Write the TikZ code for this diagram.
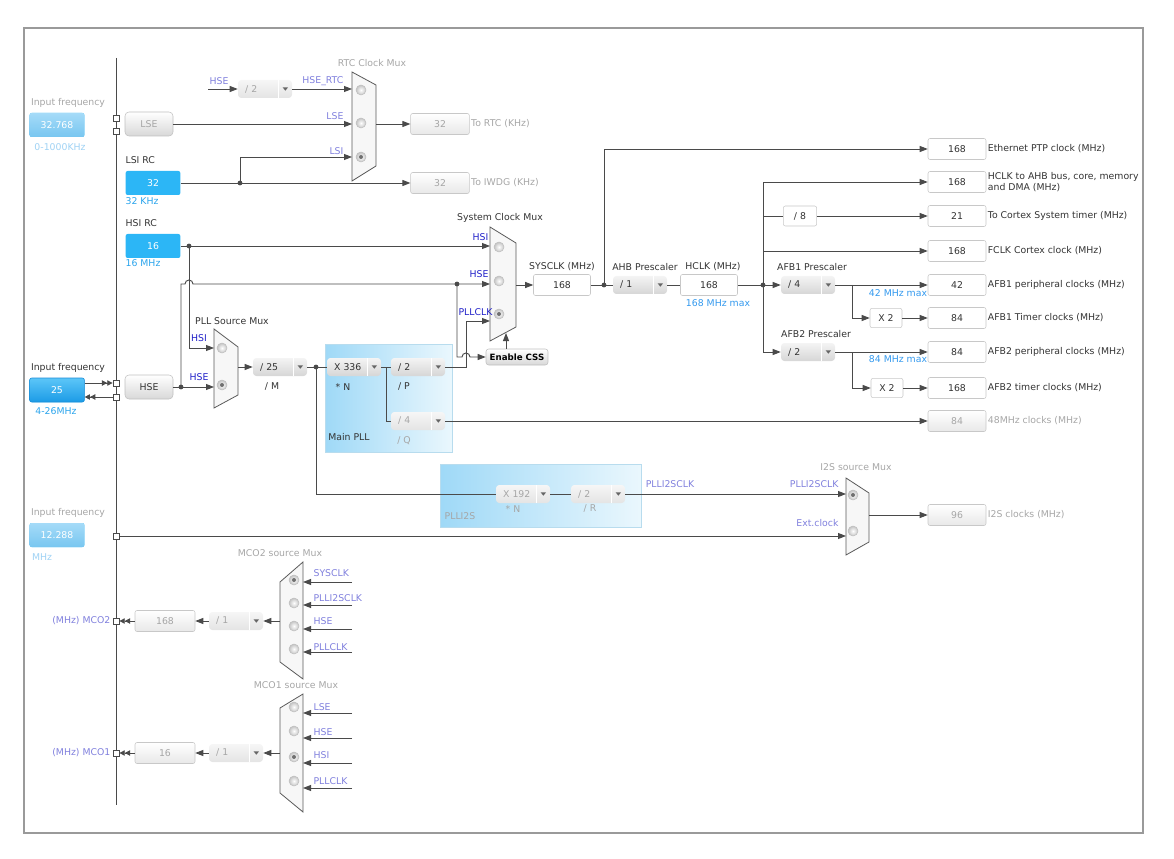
\documentclass[tikz,border=0pt]{standalone}
\usepackage{fontspec}
\setmainfont{DejaVu Sans}
\usetikzlibrary{arrows.meta}

\definecolor{wirec}{HTML}{4A4A4A}
\definecolor{darktxt}{HTML}{333333}
\definecolor{dimtxt}{HTML}{A6A6A6}
\definecolor{sigblue}{HTML}{2020C8}
\definecolor{siglav}{HTML}{8080DD}
\definecolor{maxblue}{HTML}{3399EE}
\definecolor{rcblue}{HTML}{2AA4EC}
\definecolor{fadeblue}{HTML}{9FD2F4}
\definecolor{rcfill}{HTML}{2CB6F6}
\definecolor{fadetop}{HTML}{A5DBF8}
\definecolor{fadebot}{HTML}{78C6F0}
\definecolor{intop}{HTML}{5CC6F8}
\definecolor{inbot}{HTML}{1C9BE6}
\definecolor{inedge}{HTML}{1A8CD6}
\definecolor{boxedge}{HTML}{C0C0C0}
\definecolor{boxbot}{HTML}{D8D8D8}
\definecolor{valedge}{HTML}{C8C8C8}
\definecolor{offbot}{HTML}{E8E8E8}
\definecolor{ddtop}{HTML}{F4F4F4}
\definecolor{ddbot}{HTML}{D6D6D6}
\definecolor{ddtri}{HTML}{666666}
\definecolor{offddtop}{HTML}{F6F6F6}
\definecolor{offddbot}{HTML}{E4E4E4}
\definecolor{offddtri}{HTML}{A0A0A0}
\definecolor{muxedge}{HTML}{5A5A5A}
\definecolor{muxfill}{HTML}{F7F7F7}
\definecolor{dotedge}{HTML}{C0C0C0}
\definecolor{dotfill}{HTML}{C4C4C4}
\definecolor{selc}{HTML}{707070}
\definecolor{pllleft}{HTML}{9FD9F7}
\definecolor{pllright}{HTML}{EAF7FD}
\definecolor{plledge}{HTML}{B8DCEE}
\definecolor{framec}{HTML}{9A9A9A}

\begin{document}
\begin{tikzpicture}[x=0.75pt,y=-0.75pt,
  font=\fontsize{7}{8.4}\selectfont,
  wire/.style={draw=wirec,line width=0.7pt},
  arr/.style={wire,-{Triangle[length=6pt,width=4.5pt]}},
  darr/.style={wire,-{Triangle[length=4pt,width=4pt]Triangle[length=4pt,width=4pt]}},
  lbl/.style={inner sep=1pt,text=darktxt},
  dim/.style={lbl,text=dimtxt},
  sig/.style={lbl,text=sigblue},
  lav/.style={lbl,text=siglav},
  maxl/.style={lbl,text=maxblue},
  rcl/.style={lbl,text=rcblue},
  port/.style={draw=wirec,fill=white,minimum size=4.5pt,inner sep=0pt,line width=0.6pt},
  bluebox/.style={fill=rcfill,text=white,rounded corners=1.5pt,minimum width=41pt,minimum height=18pt,inner sep=0pt},
  fadebox/.style={bluebox,top color=fadetop,bottom color=fadebot},
  inbox/.style={bluebox,draw=inedge,top color=intop,bottom color=inbot},
  srcbox/.style={draw=boxedge,top color=white,bottom color=boxbot,rounded corners=3pt,minimum width=36pt,minimum height=18pt,inner sep=0pt},
  valbox/.style={draw=valedge,fill=white,rounded corners=1.5pt,minimum width=43.5pt,minimum height=15.75pt,inner sep=0pt,text=darktxt},
  offval/.style={valbox,top color=white,bottom color=offbot,text=dimtxt},
  tinybox/.style={valbox,minimum width=24pt,minimum height=14.5pt},
  dropdown/.style={rounded corners=2.5pt,top color=ddtop,bottom color=ddbot,minimum width=40.5pt,minimum height=13.5pt,inner sep=0pt,text width=30pt,align=left,text=darktxt,
    path picture={
      \draw[white,line width=0.8pt,sharp corners] ([xshift=-10pt]path picture bounding box.north east) -- ([xshift=-10pt]path picture bounding box.south east);
      \fill[ddtri,sharp corners] ([xshift=-7pt,yshift=1.2pt]path picture bounding box.east) -- ++(4pt,0) -- ++(-2pt,-2.5pt) -- cycle;}},
  offdrop/.style={dropdown,top color=offddtop,bottom color=offddbot,text=dimtxt},
  mux/.style={draw=muxedge,fill=muxfill,line width=0.6pt},
  muxdot/.style={circle,draw=dotedge,inner color=white,outer color=dotfill,minimum size=7.5pt,inner sep=0pt,line width=0.4pt},
  seldot/.style={muxdot,path picture={\fill[selc] (path picture bounding box.center) circle (1.5pt);}},
  pllbg/.style={left color=pllleft,right color=pllright,draw=plledge,line width=0.5pt,inner sep=0pt},
  cssbox/.style={draw=boxedge,top color=white,bottom color=boxbot,rounded corners=2pt,minimum width=46.5pt,minimum height=12pt,inner sep=0pt,font=\fontsize{6.5}{7}\selectfont\bfseries,text=black},
  frame/.style={draw=framec,line width=1.8pt}
]
\useasboundingbox (0,0) rectangle (1174,859);
\draw[frame] (24,28) rectangle (1143,833);
\coordinate (bus-t) at (116,58);
\coordinate (bus-b) at (116,805);
\draw[wire] (bus-t) -- (bus-b);

% PLL backgrounds
\node[pllbg,minimum width=95.25pt,minimum height=81pt] (mainpll) at (388.5,398) {};
\node[pllbg,minimum width=150.75pt,minimum height=47.25pt] (plli2s) at (540.5,495.5) {};

% LSE input
\node[dim] (lse-h) at (68,103) {Input frequency};
\node[fadebox] (lse-in) at (57,125) {32.768};
\node[lbl,text=fadeblue] (lse-r) at (60,147) {0-1000KHz};
\node[port] (lse-p1) at (116,118) {};
\node[port] (lse-p2) at (116,131) {};
\node[srcbox,text=dimtxt] (lse) at (149,124) {LSE};

% RTC clock mux
\draw[mux] (352,72) -- (376,85) -- (376,166) -- (352,181) -- cycle;
\coordinate (rtc-a) at (352,89);
\coordinate (rtc-b) at (352,124);
\coordinate (rtc-c) at (352,157);
\coordinate (rtc-o) at (376,124);
\node[muxdot] (rtc-d1) at (361,90) {};
\node[muxdot] (rtc-d2) at (361,123) {};
\node[seldot] (rtc-d3) at (361,157) {};
\node[dim] (rtc-h) at (372,63) {RTC Clock Mux};
\coordinate (hse-rs) at (208,89);
\node[lav] (hse-rl) at (219,81) {HSE};
\node[offdrop] (rtcdiv) at (265,89) {/ 2};
\node[lav,anchor=east] (rtc-la) at (345,81) {HSE\_RTC};
\node[lav,anchor=east] (rtc-lb) at (345,116) {LSE};
\node[lav,anchor=east] (rtc-lc) at (345,151) {LSI};
\draw[arr] (hse-rs) -- (rtcdiv);
\draw[arr] (rtcdiv) -- (rtc-a);
\draw[arr] (lse) -- (rtc-b);
\node[offval,minimum width=44pt] (rtc) at (440,124) {32};
\node[dim,anchor=west] (rtc-t) at (rtc.east) {To RTC (KHz)};
\draw[arr] (rtc-o) -- (rtc);

% LSI RC
\node[lbl,anchor=west] (lsi-h) at (124,160) {LSI RC};
\node[bluebox] (lsi) at (153,183) {32};
\node[rcl,anchor=west] (lsi-f) at (124,201) {32 KHz};
\coordinate (lsi-j) at (240,183);
\node[offval,minimum width=44pt] (iwdg) at (440,183) {32};
\node[dim,anchor=west] (iwdg-t) at (iwdg.east) {To IWDG (KHz)};
\draw[arr] (lsi) -- (iwdg);
\draw[arr] (lsi-j) |- (rtc-c);
\fill[wirec] (lsi-j) circle (1.8pt);

% HSI RC
\node[lbl,anchor=west] (hsi-h) at (124,223) {HSI RC};
\node[bluebox] (hsi) at (153,246) {16};
\node[rcl,anchor=west] (hsi-f) at (124,263) {16 MHz};
\coordinate (hsi-j) at (189,246);

% system clock mux
\draw[mux] (490,227) -- (516,243) -- (516,327) -- (490,341) -- cycle;
\coordinate (sys-a) at (490,246);
\coordinate (sys-b) at (490,284);
\coordinate (sys-c) at (490,321);
\coordinate (sys-o) at (516,285);
\coordinate (sys-s) at (506,333);
\node[muxdot] (sys-d1) at (499,247) {};
\node[muxdot] (sys-d2) at (499,281) {};
\node[seldot] (sys-d3) at (499,314) {};
\node[lbl] (sys-h) at (500,218) {System Clock Mux};
\node[sig,anchor=east] (sys-la) at (490,237) {HSI};
\node[sig,anchor=east] (sys-lb) at (490,274) {HSE};
\node[sig,anchor=east] (sys-lc) at (494,312) {PLLCLK};
\draw[arr] (hsi) -- (sys-a);
\fill[wirec] (hsi-j) circle (1.8pt);

% PLL source mux
\draw[mux] (214,329) -- (238,347) -- (238,395) -- (214,408) -- cycle;
\coordinate (pll-a) at (214,348);
\coordinate (pll-b) at (214,387);
\coordinate (pll-o) at (238,367);
\node[muxdot] (pll-d1) at (222,348) {};
\node[seldot] (pll-d2) at (222,385) {};
\node[lbl] (pll-h) at (232,321) {PLL Source Mux};
\node[sig] (pll-la) at (199,338) {HSI};
\node[sig] (pll-lb) at (199,377) {HSE};
\draw[arr] (hsi-j) |- (pll-a);

% HSE input
\node[lbl] (hse-h) at (68,368) {Input frequency};
\node[inbox] (hse-in) at (57,390) {25};
\node[rcl] (hse-f) at (56,411) {4-26MHz};
\node[port] (hse-p1) at (116,383) {};
\node[port] (hse-p2) at (116,397) {};
\draw[darr] (hse-in.east |- hse-p1) -- (hse-p1);
\draw[darr] (hse-p2) -- (hse-in.east |- hse-p2);
\node[srcbox,text=darktxt] (hse) at (149,387) {HSE};
\coordinate (hse-j) at (181,387);
\coordinate (hse-k) at (457,284);
\draw[wire] (hse) -- (hse-j);
\draw[arr] (hse-j) -- (pll-b);
\draw[arr] (hse-j) -- (181,284) -- (185,284) arc[start angle=180,end angle=0,radius=3pt] -- (sys-b);
\node[cssbox] (css) at (517,357) {Enable CSS};
\draw[arr] (hse-k) -- (457,357) -- (462,357) arc[start angle=180,end angle=0,radius=3pt] -- (css);
\draw[arr] (css.north -| sys-s) -- (sys-s);
\fill[wirec] (hse-j) circle (1.8pt);
\fill[wirec] (hse-k) circle (1.8pt);

% main PLL
\node[lbl] (mainpll-l) at (349,437) {Main PLL};
\node[dropdown] (divm) at (280,367) {/ 25};
\node[lbl] (divm-l) at (272,387) {/ M};
\coordinate (m-j) at (316,367);
\node[dropdown] (muln) at (354,367) {X 336};
\node[lbl] (muln-l) at (343,387) {* N};
\node[dropdown] (divp) at (418,367) {/ 2};
\node[lbl] (divp-l) at (404,387) {/ P};
\coordinate (n-j) at (386,367);
\node[offdrop] (divq) at (418,421) {/ 4};
\node[dim] (divq-l) at (404,441) {/ Q};
\draw[arr] (pll-o) -- (divm);
\draw[wire] (divm) -- (muln);
\draw[wire] (muln) -- (divp);
\draw[wire] (n-j) |- (divq);
\draw[arr] (divp) -| (466,321) -- (sys-c);
\fill[wirec] (m-j) circle (1.8pt);

% SYSCLK, AHB
\node[valbox,minimum width=42.75pt] (sysclk) at (562,285) {168};
\node[lbl] (sysclk-h) at (562,267) {SYSCLK (MHz)};
\coordinate (eth-j) at (604,285);
\node[dropdown] (ahb) at (640,285) {/ 1};
\node[lbl] (ahb-h) at (645,267) {AHB Prescaler};
\node[valbox,minimum width=42.75pt] (hclk) at (709,285) {168};
\node[lbl] (hclk-h) at (713,267) {HCLK (MHz)};
\node[maxl] (hclk-m) at (718,303) {168 MHz max};
\coordinate (hb-j) at (763,285);
\draw[arr] (sys-o) -- (sysclk);
\draw[wire] (sysclk) -- (ahb);
\draw[wire] (ahb) -- (hclk);
\fill[wirec] (eth-j) circle (1.8pt);
\fill[wirec] (hb-j) circle (1.8pt);

% outputs
\node[valbox] (eth) at (957,149) {168};
\node[lbl,anchor=west] (eth-t) at (eth.east) {Ethernet PTP clock (MHz)};
\node[valbox] (ahbbus) at (957,182) {168};
\node[lbl,anchor=west,align=left] (ahbbus-t) at (ahbbus.east) {HCLK to AHB bus, core, memory\\and DMA (MHz)};
\node[tinybox,minimum width=25pt,minimum height=15pt] (div8) at (800,216) {/ 8};
\node[valbox] (systick) at (957,216) {21};
\node[lbl,anchor=west] (systick-t) at (systick.east) {To Cortex System timer (MHz)};
\node[valbox] (fclk) at (957,251) {168};
\node[lbl,anchor=west] (fclk-t) at (fclk.east) {FCLK Cortex clock (MHz)};
\draw[arr] (eth-j) |- (eth);
\draw[arr] (hb-j) |- (ahbbus);
\draw[wire] (hb-j) |- (div8);
\draw[arr] (div8) -- (systick);
\draw[arr] (hb-j) |- (fclk);

% APB1
\node[dropdown] (apb1) at (808,285) {/ 4};
\node[lbl] (apb1-h) at (812,267) {AFB1 Prescaler};
\coordinate (a1-j) at (852,285);
\node[valbox] (apb1p) at (957,285) {42};
\node[lbl,anchor=west] (apb1p-t) at (apb1p.east) {AFB1 peripheral clocks (MHz)};
\node[maxl] (apb1-m) at (898,293) {42 MHz max};
\node[tinybox] (x2a) at (886,318) {X 2};
\node[valbox] (apb1t) at (957,318) {84};
\node[lbl,anchor=west] (apb1t-t) at (apb1t.east) {AFB1 Timer clocks (MHz)};
\draw[arr] (hclk) -- (apb1);
\draw[arr] (apb1) -- (apb1p);
\draw[arr] (a1-j) |- (x2a);
\draw[arr] (x2a) -- (apb1t);

% APB2
\node[dropdown] (apb2) at (808,352) {/ 2};
\node[lbl] (apb2-h) at (816,334) {AFB2 Prescaler};
\coordinate (a2-j) at (852,352);
\node[valbox] (apb2p) at (957,352) {84};
\node[lbl,anchor=west] (apb2p-t) at (apb2p.east) {AFB2 peripheral clocks (MHz)};
\node[maxl] (apb2-m) at (898,359) {84 MHz max};
\node[tinybox] (x2b) at (887,388) {X 2};
\node[valbox] (apb2t) at (957,388) {168};
\node[lbl,anchor=west] (apb2t-t) at (apb2t.east) {AFB2 timer clocks (MHz)};
\draw[arr] (hb-j) |- (apb2);
\draw[arr] (apb2) -- (apb2p);
\draw[arr] (a2-j) |- (x2b);
\draw[arr] (x2b) -- (apb2t);

% 48 MHz
\node[offval] (usb) at (957,421) {84};
\node[dim,anchor=west] (usb-t) at (usb.east) {48MHz clocks (MHz)};
\draw[arr] (divq) -- (usb);

% PLLI2S
\node[dim] (plli2s-l) at (460,516) {PLLI2S};
\node[offdrop] (muli2s) at (523,494) {X 192};
\node[dim] (muli2s-l) at (513,509) {* N};
\node[offdrop] (divr) at (598,494) {/ 2};
\node[dim] (divr-l) at (590,509) {/ R};
\node[lav] (divr-o) at (670,484) {PLLI2SCLK};
\draw[wire] (m-j) |- (muli2s);
\draw[wire] (muli2s) -- (divr);

% I2S source mux
\draw[mux] (846,478) -- (869,493) -- (869,542) -- (846,555) -- cycle;
\coordinate (i2s-a) at (846,494);
\coordinate (i2s-b) at (846,536);
\coordinate (i2s-o) at (869,515);
\node[seldot] (i2s-d1) at (853,495) {};
\node[muxdot] (i2s-d2) at (853,531) {};
\node[dim] (i2s-h) at (856,467) {I2S source Mux};
\node[lav,anchor=east] (i2s-la) at (840,484) {PLLI2SCLK};
\node[lav,anchor=east] (i2s-lb) at (840,523) {Ext.clock};
\node[offval] (i2s) at (957,515) {96};
\node[dim,anchor=west] (i2s-t) at (i2s.east) {I2S clocks (MHz)};
\draw[arr] (divr) -- (i2s-a);
\draw[arr] (i2s-o) -- (i2s);

% external I2S clock
\node[dim] (ext-h) at (68,513) {Input frequency};
\node[fadebox] (ext-in) at (57,535) {12.288};
\node[lbl,text=fadeblue] (ext-f) at (42,557) {MHz};
\node[port] (ext-p) at (116,536) {};
\draw[arr] (ext-p) -- (i2s-b);

% MCO2
\draw[mux] (303,562) -- (303,679) -- (280,662) -- (280,582) -- cycle;
\node[dim] (mco2-h) at (280,553) {MCO2 source Mux};
\node[seldot] (mco2-d1) at (294,580) {};
\node[muxdot] (mco2-d2) at (294,603) {};
\node[muxdot] (mco2-d3) at (294,626) {};
\node[muxdot] (mco2-d4) at (294,649) {};
\coordinate (mco2-a) at (303,582);
\coordinate (mco2-b) at (303,605);
\coordinate (mco2-c) at (303,629);
\coordinate (mco2-d) at (303,652);
\coordinate (mco2-as) at (352,582);
\coordinate (mco2-bs) at (352,605);
\coordinate (mco2-cs) at (352,629);
\coordinate (mco2-ds) at (352,652);
\node[lav,anchor=west] (mco2-la) at (312,573) {SYSCLK};
\node[lav,anchor=west] (mco2-lb) at (312,598) {PLLI2SCLK};
\node[lav,anchor=west] (mco2-lc) at (312,621) {HSE};
\node[lav,anchor=west] (mco2-ld) at (312,647) {PLLCLK};
\draw[arr] (mco2-as) -- (mco2-a);
\draw[arr] (mco2-bs) -- (mco2-b);
\draw[arr] (mco2-cs) -- (mco2-c);
\draw[arr] (mco2-ds) -- (mco2-d);
\coordinate (mco2-o) at (280,621);
\node[offdrop] (mco2div) at (236,621) {/ 1};
\node[offval,minimum width=45pt] (mco2v) at (165,621) {168};
\node[port] (mco2-p) at (116,621) {};
\node[lav,anchor=east] (mco2-l) at (112,621) {(MHz) MCO2};
\draw[arr] (mco2-o) -- (mco2div);
\draw[arr] (mco2div) -- (mco2v);
\draw[darr] (mco2v) -- (mco2-p);

% MCO1
\draw[mux] (303,694) -- (303,812) -- (280,793) -- (280,708) -- cycle;
\node[dim] (mco1-h) at (296,685) {MCO1 source Mux};
\node[muxdot] (mco1-d1) at (294,707) {};
\node[muxdot] (mco1-d2) at (294,731) {};
\node[seldot] (mco1-d3) at (294,757) {};
\node[muxdot] (mco1-d4) at (294,781) {};
\coordinate (mco1-a) at (303,713);
\coordinate (mco1-b) at (303,738);
\coordinate (mco1-c) at (303,763);
\coordinate (mco1-d) at (303,788);
\coordinate (mco1-as) at (352,713);
\coordinate (mco1-bs) at (352,738);
\coordinate (mco1-cs) at (352,763);
\coordinate (mco1-ds) at (352,788);
\node[lav,anchor=west] (mco1-la) at (312,707) {LSE};
\node[lav,anchor=west] (mco1-lb) at (312,732) {HSE};
\node[lav,anchor=west] (mco1-lc) at (312,755) {HSI};
\node[lav,anchor=west] (mco1-ld) at (312,781) {PLLCLK};
\draw[arr] (mco1-as) -- (mco1-a);
\draw[arr] (mco1-bs) -- (mco1-b);
\draw[arr] (mco1-cs) -- (mco1-c);
\draw[arr] (mco1-ds) -- (mco1-d);
\coordinate (mco1-o) at (280,753);
\node[offdrop] (mco1div) at (236,753) {/ 1};
\node[offval,minimum width=45pt] (mco1v) at (165,753) {16};
\node[port] (mco1-p) at (116,753) {};
\node[lav,anchor=east] (mco1-l) at (112,753) {(MHz) MCO1};
\draw[arr] (mco1-o) -- (mco1div);
\draw[arr] (mco1div) -- (mco1v);
\draw[darr] (mco1v) -- (mco1-p);
\end{tikzpicture}
\end{document}
